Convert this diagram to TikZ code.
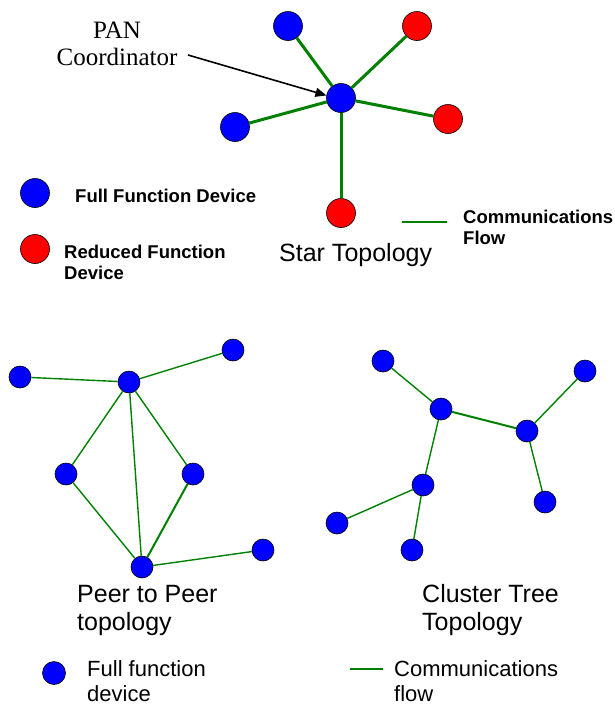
\documentclass[tikz,border=0pt]{standalone}
\usepackage{fontspec}
\setmainfont{Liberation Sans}
\newfontfamily\serifface{Liberation Serif}
\usetikzlibrary{arrows.meta}
\definecolor{flowgreen}{RGB}{0,128,0}
\definecolor{ffdblue}{RGB}{0,0,255}
\definecolor{rfdred}{RGB}{255,0,0}
\tikzset{
  ffd/.style={circle, draw=black, line width=0.6pt, fill=ffdblue, inner sep=0pt, minimum size=22pt},
  rfd/.style={circle, draw=black, line width=0.6pt, fill=rfdred, inner sep=0pt, minimum size=22pt},
  bigdev/.style={minimum size=29pt},
  starlink/.style={draw=flowgreen, line width=3pt},
  meshlink/.style={draw=flowgreen, line width=1.4pt},
  legendtxt/.style={font=\fontsize{18.5}{21}\selectfont\bfseries, anchor=west, inner sep=0pt, align=left},
  bigtxt/.style={font=\fontsize{25}{28}\selectfont, anchor=west, inner sep=0pt, align=left},
  lowtxt/.style={font=\fontsize{22}{25}\selectfont, anchor=west, inner sep=0pt, align=left},
}
\begin{document}
\begin{tikzpicture}[x=1pt, y=-1pt]
\useasboundingbox (0,0) rectangle (615,705);

% ---------- Star topology ----------
\node[ffd, bigdev] (pan) at (341,98) {};
\node[ffd, bigdev] (s1) at (288,26) {};
\node[rfd, bigdev] (s2) at (417,26) {};
\node[ffd, bigdev] (s3) at (235,127) {};
\node[rfd, bigdev] (s4) at (448,119) {};
\node[rfd, bigdev] (s5) at (341,213) {};
\foreach \n in {s1,s2,s3,s4,s5} \draw[starlink] (pan) -- (\n);

\node[font=\serifface\fontsize{25}{27}\selectfont, align=center, inner sep=0pt] (pantxt) at (117,44) {PAN\\Coordinator};
\coordinate (arrowstart) at (188,55);
\draw[line width=1.6pt, -{Triangle[length=11pt,width=9pt]}] (arrowstart) -- (pan.170);

% star legend
\node[ffd, bigdev] (legffd) at (35,193) {};
\node[rfd, bigdev] (legrfd) at (35,249) {};
\node[legendtxt] (legffdtxt) at (75,196) {Full Function Device};
\node[legendtxt] (legrfdtxt) at (64,262) {Reduced Function\\Device};
\node[bigtxt] (startitle) at (279,255) {Star Topology};
\coordinate (lf1) at (402,222);
\coordinate (lf2) at (447,222);
\draw[flowgreen, line width=2pt] (lf1) -- (lf2);
\node[legendtxt] (flowtxt) at (463,227) {Communications\\Flow};

% ---------- Peer to peer ----------
\node[ffd] (pa) at (20,377) {};
\node[ffd] (pb) at (129,382) {};
\node[ffd] (pc) at (233,350) {};
\node[ffd] (pd) at (66,474) {};
\node[ffd] (pe) at (193,474) {};
\node[ffd] (pf) at (142,567) {};
\node[ffd] (pg) at (263,550) {};
\draw[meshlink] (pa) -- (pb);
\draw[meshlink] (pb) -- (pc);
\draw[meshlink] (pb) -- (pd);
\draw[meshlink] (pb) -- (pe);
\draw[meshlink] (pb) -- (pf);
\draw[meshlink] (pd) -- (pf);
\draw[meshlink, line width=2pt] (pe) -- (pf);
\draw[meshlink] (pf) -- (pg);
\node[bigtxt] (p2ptitle) at (77,610) {Peer to Peer\\topology};

% ---------- Cluster tree ----------
\node[ffd] (ch) at (383,361) {};
\node[ffd] (ci) at (441,409) {};
\node[ffd] (cj) at (585,371) {};
\node[ffd] (ck) at (527,431) {};
\node[ffd] (cl) at (423,485) {};
\node[ffd] (cm) at (545,502) {};
\node[ffd] (cn) at (337,523) {};
\node[ffd] (co) at (412,550) {};
\draw[meshlink] (ch) -- (ci);
\draw[meshlink, line width=2pt] (ci) -- (ck);
\draw[meshlink] (ck) -- (cj);
\draw[meshlink] (ck) -- (cm);
\draw[meshlink] (ci) -- (cl);
\draw[meshlink] (cl) -- (cn);
\draw[meshlink] (cl) -- (co);
\node[bigtxt] (cttitle) at (422,610) {Cluster Tree\\Topology};

% ---------- Lower legend ----------
\node[ffd, minimum size=23pt] (legffd2) at (54,673) {};
\node[lowtxt] (legffd2txt) at (87,681) {Full function\\device};
\coordinate (lg1) at (350,669);
\coordinate (lg2) at (383,669);
\draw[flowgreen, line width=2pt] (lg1) -- (lg2);
\node[lowtxt] (flow2txt) at (394,681) {Communications\\flow};
\end{tikzpicture}
\end{document}
